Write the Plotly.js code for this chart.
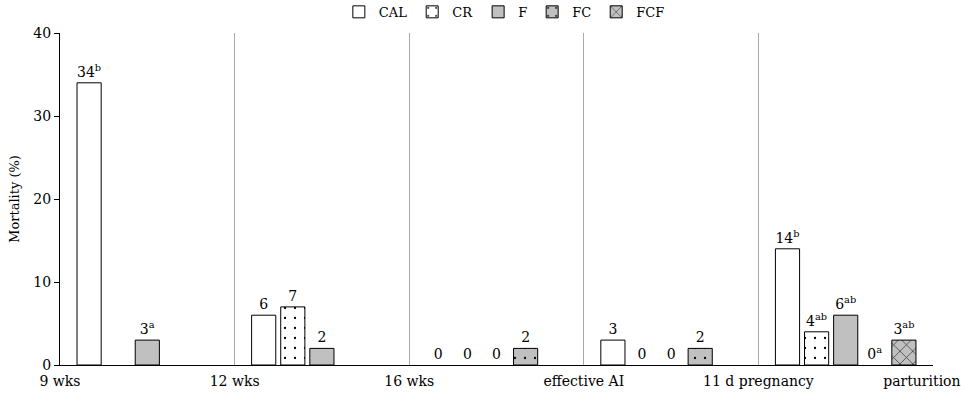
<!DOCTYPE html>
<html>
<head>
<meta charset="utf-8">
<script src="https://cdn.plot.ly/plotly-3.0.1.min.js"></script>
<style>html,body{margin:0;padding:0;background:#fff;}#chart{width:961px;height:396px;}</style>
</head>
<body>
<div id="chart"></div>
<script>
// Boundary tick labels (time points) and the five periods between them
const boundaryLabels = ["9 wks", "12 wks", "16 wks", "effective AI", "11 d pregnancy", "parturition"];
const seriesNames = ["CAL", "CR", "F", "FC", "FCF"];

// Mortality (%) per period, one array per group
const CAL = [34, 6, 0, 3, 14];
const CR  = [null, 7, 0, 0, 4];
const F   = [3, 2, 0, 0, 6];
const FC  = [null, null, 2, 2, 0];
const FCF = [null, null, null, null, 3];

// Significance letters shown as superscripts
const CAL_sup = ["b", "", "", "", "b"];
const CR_sup  = ["", "", "", "", "ab"];
const F_sup   = ["a", "", "", "", "ab"];
const FC_sup  = ["", "", "", "", "a"];
const FCF_sup = ["", "", "", "", "ab"];

const values = [CAL, CR, F, FC, FCF];
const sups = [CAL_sup, CR_sup, F_sup, FC_sup, FCF_sup];

const styles = [
  {color: "#ffffff", pattern: {shape: ""}},
  {color: "#ffffff", pattern: {shape: ".", fgcolor: "#000", bgcolor: "#ffffff", size: 10, solidity: 0.04, fillmode: "replace"}},
  {color: "#c0c0c0", pattern: {shape: ""}},
  {color: "#c0c0c0", pattern: {shape: ".", fgcolor: "#000", bgcolor: "#c0c0c0", size: 10, solidity: 0.04, fillmode: "replace"}},
  {color: "#c0c0c0", pattern: {shape: "x", fgcolor: "#333", bgcolor: "#c0c0c0", size: 9, solidity: 0.15, fillmode: "replace"}}
];

const nPeriods = boundaryLabels.length - 1;
const periodCenters = Array.from({length: nPeriods}, (_, i) => i + 0.5);
const boundaryPos = boundaryLabels.map((_, i) => i);
// last label nudged left so it fits inside the page, as in the original
const tickText = boundaryLabels.map((t, i) => i === boundaryLabels.length - 1 ? t + "&nbsp;&nbsp;&nbsp;&nbsp;&nbsp;" : t);

const font = "DejaVu Serif";

const traces = seriesNames.map((name, s) => ({
  type: "bar",
  name: name,
  x: periodCenters,
  y: values[s],
  text: values[s].map((v, i) => v === null ? "" : (sups[s][i] ? v + "<sup>" + sups[s][i] + "</sup>" : String(v))),
  textposition: "outside",
  cliponaxis: false,
  textfont: {family: font, size: 14, color: "#000"},
  marker: {
    color: styles[s].color,
    line: {color: "#000", width: values[s].map(v => (v === 0 ? 0 : 1))},
    pattern: styles[s].pattern
  },
  hoverinfo: "skip"
}));

const layout = {
  width: 961, height: 396,
  margin: {l: 60, r: 28, t: 33, b: 31},
  paper_bgcolor: "#fff", plot_bgcolor: "#fff",
  font: {family: font, size: 14, color: "#000"},
  barmode: "group",
  bargap: 1/6,
  bargroupgap: 0.17,
  showlegend: true,
  legend: {orientation: "h", x: 0.509, xanchor: "center", y: 0.97, yanchor: "middle", yref: "container",
           font: {family: font, size: 13}, itemwidth: 30, traceorder: "normal",
           tracegroupgap: 0, bgcolor: "rgba(0,0,0,0)"},
  xaxis: {
    range: [0, nPeriods], tickmode: "array", tickvals: boundaryPos, ticktext: tickText,
    showgrid: true, gridcolor: "#aaaaaa", gridwidth: 1,
    showline: true, linecolor: "#000", linewidth: 1, ticks: "", zeroline: false,
    tickfont: {family: font, size: 14}, automargin: false, fixedrange: true,
    ticklabeloverflow: "allow", ticklabelstandoff: 3
  },
  yaxis: {
    range: [0, 40], tickvals: [0, 10, 20, 30, 40], showgrid: false, zeroline: false,
    showline: true, linecolor: "#000", linewidth: 1, ticks: "outside", ticklen: 5, tickcolor: "#000",
    tickfont: {family: font, size: 14}, automargin: false,
    title: {text: "Mortality (%)", font: {family: font, size: 13}, standoff: 10}
  }
};

Plotly.newPlot("chart", traces, layout, {staticPlot: true, displayModeBar: false});
</script>
</body>
</html>
